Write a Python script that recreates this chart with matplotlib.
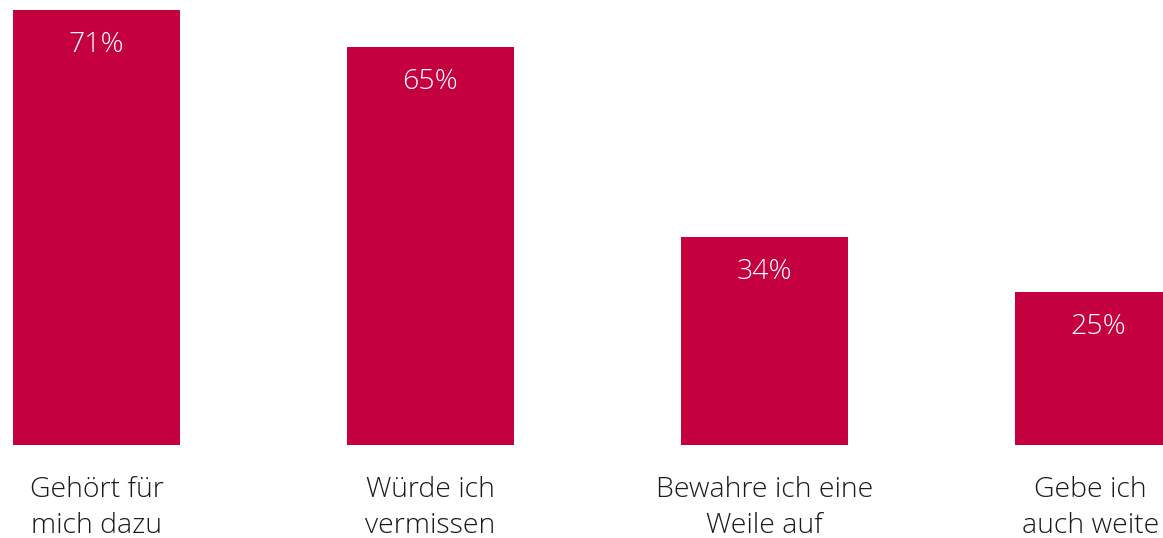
import matplotlib
matplotlib.use("Agg")
import matplotlib.pyplot as plt

categories = ["Gehört für\nmich dazu", "Würde ich\nvermissen",
              "Bewahre ich eine\nWeile auf", "Gebe ich\nauch weite"]
values = [71, 65, 34, 25]
labels = ["71%", "65%", "34%", "25%"]

plt.rcParams['font.family'] = ['Open Sans', 'DejaVu Sans']

fig = plt.figure(figsize=(11.63, 5.38), dpi=100)
ax = fig.add_axes([0, (538 - 445) / 538, 1, 435 / 538])

pos = range(len(values))
ax.bar(pos, values, width=0.5, color="#C4003E")

for i, v in enumerate(values):
    ax.annotate(labels[i], (i, v), xytext=(0, -35), textcoords="offset pixels",
                ha="center", va="center", color="white", fontsize=20.5,
                fontweight="light")
    # last label sits a bit to the left so it stays inside the figure
    dx = -8 if i == len(values) - 1 else 0
    ax.annotate(categories[i], (i, 0), xytext=(dx, -63), textcoords="offset pixels",
                ha="center", va="center", color="#1a1a1a", fontsize=20.5,
                fontweight="light", linespacing=1.36, annotation_clip=False)

ax.set_xlim(-96.5 / 334, (1163 - 96.5) / 334)
ax.set_ylim(0, 71)
ax.axis("off")

fig.savefig("out.png", dpi=100)
